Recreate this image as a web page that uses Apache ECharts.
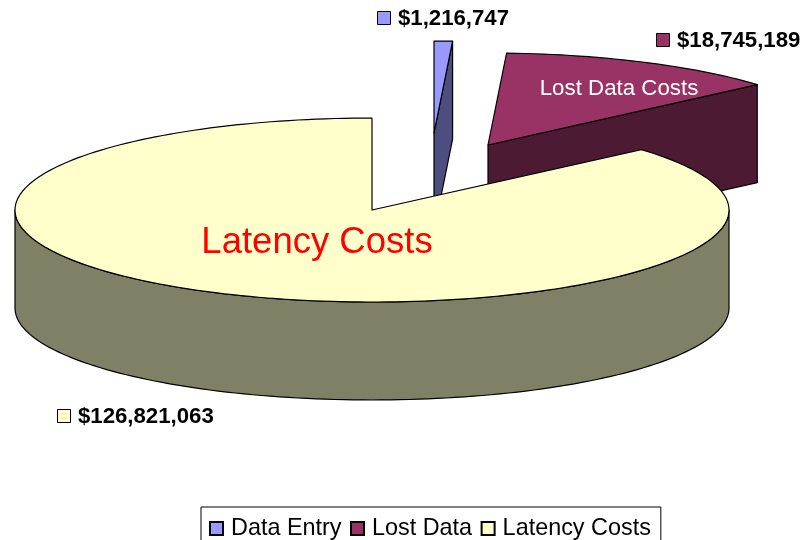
<!DOCTYPE html>
<html>
<head>
<meta charset="utf-8">
<style>html,body{margin:0;padding:0;background:#fff}#c{width:801px;height:540px}</style>
<script src="https://cdn.jsdelivr.net/npm/echarts@6/dist/echarts.min.js"></script>
</head>
<body>
<div id="c"></div>
<script>
// Data
var categories = ['Data Entry', 'Lost Data', 'Latency Costs'];
var costs = [1216747, 18745189, 126821063];
var sliceNotes = ['', 'Lost Data Costs', 'Latency Costs'];

// Styles
var topColors = ['#9999FF', '#993366', '#FFFFCC'];
var sideColors = ['#4D4D80', '#4D1A33', '#808066'];
var noteColors = ['#000', '#FFFFFF', '#FF0000'];
var fontName = '"Liberation Sans", Arial, sans-serif';

// 3D pie projection layout
var pie = { cx: 372, cy: 210, rx: 357, ry: 92, depth: 98 };
var explodeX = [62, 116, 0];
var explodeY = [-77, -65, 0];
var valueLabelX = [377, 656, 57];
var valueLabelY = [18, 40, 416];
var noteX = [0, 619, 317];
var noteY = [0, 89, 243];
var noteSize = [0, 22.3, 36.5];

var total = costs.reduce(function (a, b) { return a + b; }, 0);

function startAngle(i) {
  var s = 0;
  for (var k = 0; k < i; k++) s += costs[k];
  return s / total * 360;
}
function pt(a, r, dx, dy, dz) {
  var t = a * Math.PI / 180;
  return [pie.cx + dx + r * pie.rx * Math.sin(t), pie.cy + dy - r * pie.ry * Math.cos(t) + dz];
}
function arc(a0, a1, dx, dy, dz) {
  var pts = [], n = Math.max(2, Math.ceil(Math.abs(a1 - a0) / 1.5));
  for (var k = 0; k <= n; k++) pts.push(pt(a0 + (a1 - a0) * k / n, 1, dx, dy, dz));
  return pts;
}
function poly(points, fill) {
  return { type: 'polygon', shape: { points: points }, silent: true,
    style: { fill: fill, stroke: '#000', lineWidth: 1.2, lineJoin: 'round' } };
}
function radialWall(a, dx, dy, fill) {
  return poly([pt(a, 0, dx, dy, 0), pt(a, 1, dx, dy, 0), pt(a, 1, dx, dy, pie.depth), pt(a, 0, dx, dy, pie.depth)], fill);
}
function money(v) {
  return '$' + String(v).replace(/\B(?=(\d{3})+$)/g, ',');
}

function makeRender(i) {
  return function (params, api) {
    var v = api.value(0);
    var a0 = startAngle(i), a1 = a0 + v / total * 360;
    var dx = explodeX[i], dy = explodeY[i];
    var kids = [];
    // visible radial walls
    if (a1 > 0 && a1 < 180) kids.push(radialWall(a1, dx, dy, sideColors[i]));
    if (a0 > 180 && a0 < 360) kids.push(radialWall(a0, dx, dy, sideColors[i]));
    // visible outer wall (front half of the rim)
    var w0 = Math.max(a0, 90), w1 = Math.min(a1, 270);
    if (w1 > w0) {
      kids.push(poly(arc(w0, w1, dx, dy, 0).concat(arc(w0, w1, dx, dy, pie.depth).reverse()), sideColors[i]));
    }
    // top face
    kids.push(poly([pt(0, 0, dx, dy, 0)].concat(arc(a0, a1, dx, dy, 0)), topColors[i]));
    // slice note
    if (sliceNotes[i]) {
      kids.push({ type: 'text', silent: true, style: {
        text: sliceNotes[i], x: noteX[i], y: noteY[i], align: 'center', verticalAlign: 'middle',
        fill: noteColors[i], font: noteSize[i] + 'px ' + fontName } });
    }
    // value label with swatch
    var lx = valueLabelX[i], ly = valueLabelY[i];
    kids.push({ type: 'rect', silent: true, shape: { x: lx + 0.5, y: ly - 6.5, width: 13, height: 13 },
      style: { fill: topColors[i], stroke: '#000', lineWidth: 1 } });
    kids.push({ type: 'text', silent: true, style: {
      text: money(v), x: lx + 21, y: ly + 1, align: 'left', verticalAlign: 'middle',
      fill: '#000', font: 'bold 22.2px ' + fontName } });
    return { type: 'group', children: kids };
  };
}

var chart = echarts.init(document.getElementById('c'), null, { renderer: 'canvas' });
chart.setOption({
  animation: false,
  backgroundColor: '#fff',
  tooltip: { show: false },
  legend: {
    data: categories.map(function (c) { return { name: c, icon: 'rect' }; }),
    left: 201, top: 507,
    orient: 'horizontal',
    padding: [10, 10, 20, 8],
    itemGap: 8.5,
    itemWidth: 13, itemHeight: 13,
    borderColor: '#000', borderWidth: 1,
    selectedMode: false,
    textStyle: { fontFamily: fontName, fontSize: 23.4, color: '#000', padding: [0, 0, 0, 3] }
  },
  series: categories.map(function (c, i) {
    return {
      type: 'custom', name: c, coordinateSystem: 'none',
      renderItem: makeRender(i),
      data: [[costs[i]]],
      itemStyle: { color: topColors[i], borderColor: '#000', borderWidth: 1 },
      silent: true
    };
  })
});
</script>
</body>
</html>
